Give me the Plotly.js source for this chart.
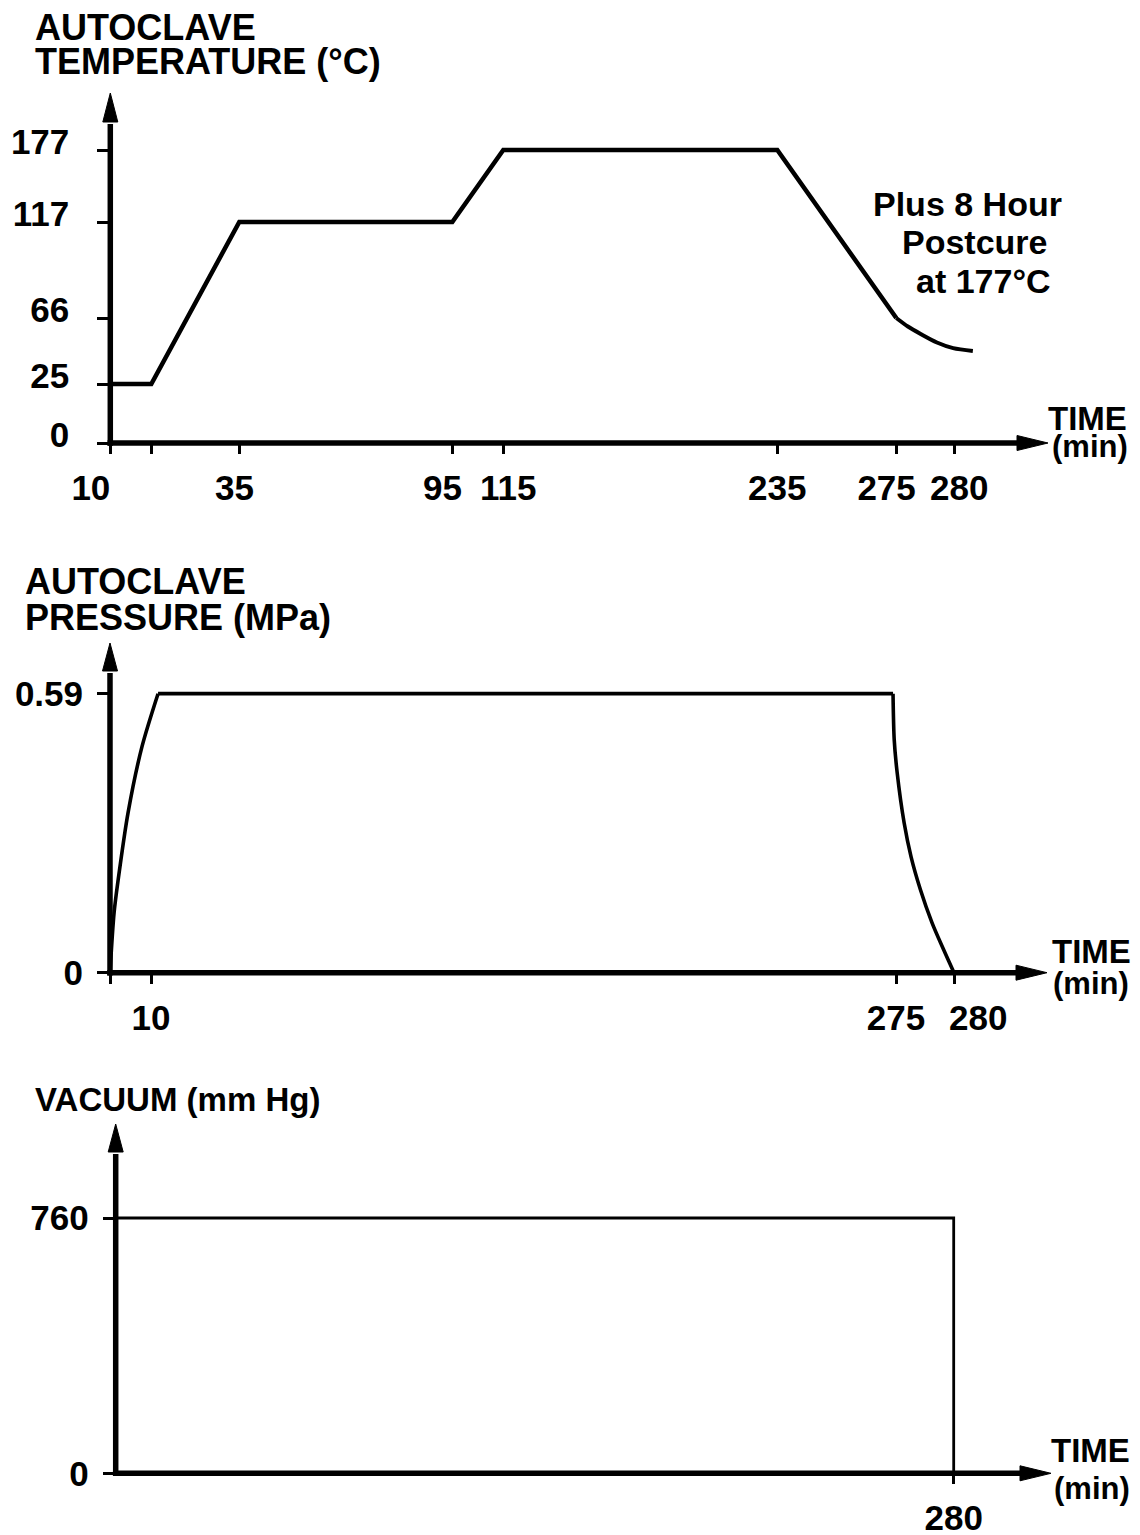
<!DOCTYPE html>
<html>
<head>
<meta charset="utf-8">
<script src="https://cdn.plot.ly/plotly-3.0.1.min.js"></script>
<style>
html, body { margin: 0; padding: 0; background: #ffffff; }
#chart { width: 1140px; height: 1535px; }
</style>
</head>
<body>
<div id="chart"></div>
<script>
// ---------------- data ----------------
// Time ticks (minutes) and their labels, per panel
const timeTickMin = [0, 10, 35, 95, 115, 235, 275, 280];
const tempTimeTickLabels = ['10', '', '35', '95', '115', '235', '275', '280'];
const pressTimeTickMin = [0, 10, 275, 280];
const pressTimeTickLabels = ['', '10', '275', '280'];
const vacTimeTickMin = [280];
const vacTimeTickLabels = ['280'];

// Value ticks
const tempTicksC = [0, 25, 66, 117, 177];
const pressTicksMPa = [0, 0.59];
const vacTicksMmHg = [0, 760];

// Autoclave temperature profile (°C)
const tempTimeMin = [0, 10, 35, 95, 115, 235, 275];
const tempC = [25, 25, 117, 117, 177, 177, 66];
// Cool-down tail after 275 min
const coolTimeMin = [275, 276.0, 277.1, 278.5, 279.9, 281.6];
const coolC = [66, 60.7, 56.1, 50.8, 47.3, 45.5];

// Autoclave pressure (MPa)
const pressRiseMin = [0, 1.0, 2.0, 4.4, 7.8, 12];
const pressRiseMPa = [0, 0.127, 0.197, 0.338, 0.478, 0.59];
const pressHoldMin = [12, 274.0];
const pressHoldMPa = [0.59, 0.59];
const pressReleaseMin = [274.0, 274.4, 275.1, 275.7, 276.3, 277.1, 278.1, 279.1, 280];
const pressReleaseMPa = [0.59, 0.493, 0.423, 0.317, 0.245, 0.176, 0.106, 0.049, 0];

// Vacuum (mm Hg)
const vacTimeMin = [0, 280, 280];
const vacMmHg = [760, 760, 0];

// ---------------- schematic (non-proportional) scales ----------------
// The drawing's axes are not to scale: each labelled value sits at its own spot.
const timeScaleKnots = [0, 10, 35, 95, 115, 235, 275, 280];
const timeScaleSpots = [0, 41, 129, 342, 393, 667, 786, 844];
const tempScaleKnots = [0, 25, 66, 117, 177];
const tempScaleSpots = [0, 59, 125, 221, 293];

function piecewise(knots, spots) {
  return function (v) {
    let i = 0;
    if (v <= knots[0]) i = 0;
    else if (v >= knots[knots.length - 1]) i = knots.length - 2;
    else { while (!(v >= knots[i] && v <= knots[i + 1])) i++; }
    const t = (v - knots[i]) / (knots[i + 1] - knots[i]);
    return spots[i] + t * (spots[i + 1] - spots[i]);
  };
}
const timePos = piecewise(timeScaleKnots, timeScaleSpots);
const tempPos = piecewise(tempScaleKnots, tempScaleSpots);

// ---------------- page geometry helpers ----------------
const W = 1140, H = 1535;
const fx = px => px / W;
const fy = py => 1 - py / H;

const BLACK = '#000000';
const FONT = 'Liberation Sans, Arial, Helvetica, sans-serif';
const WEIGHT = 'bold';
const TICKFONT = { family: FONT, size: 35, color: BLACK, weight: WEIGHT };

// label nudges as drawn in the figure (non-breaking spaces shift a centred label)
const NB = n => '\u00a0'.repeat(n);
const nudge = (txt, left, right) => NB(left) + txt + NB(right);
const tempTickText = tempTimeTickLabels.map((t, i) =>
  [nudge(t, 0, 4), t, nudge(t, 0, 1), nudge(t, 0, 2), nudge(t, 1, 0), t, nudge(t, 0, 2), nudge(t, 1, 0)][i]);
const pressTickText = pressTimeTickLabels.map((t, i) => [t, t, t, nudge(t, 5, 0)][i]);

// panel frames (origin and arrow bases, pixels)
const P1 = { ox: 110.3, oy: 443, xEnd: 1017, yEnd: 122, xTip: 1048, yTip: 93 };
const P2 = { ox: 110, oy: 972.7, xEnd: 1016, yEnd: 671, xTip: 1047, yTip: 643 };
const P3 = { ox: 115.7, oy: 1473.3, xEnd: 1020, yEnd: 1152, xTip: 1051, yTip: 1124 };

// ---------------- traces ----------------
const line = (w, shape) => ({ color: BLACK, width: w, shape: shape || 'linear' });
const traces = [
  { x: tempTimeMin.map(timePos), y: tempC.map(tempPos), xaxis: 'x', yaxis: 'y',
    mode: 'lines', line: Object.assign(line(4.5), { simplify: false }), hoverinfo: 'skip' },
  { x: coolTimeMin.map(timePos), y: coolC.map(tempPos), xaxis: 'x', yaxis: 'y',
    mode: 'lines', line: Object.assign(line(4, 'spline'), { smoothing: 0.8 }), hoverinfo: 'skip' },
  { x: pressRiseMin.map(timePos), y: pressRiseMPa, xaxis: 'x2', yaxis: 'y2',
    mode: 'lines', line: Object.assign(line(3.6, 'spline'), { smoothing: 0.8 }), hoverinfo: 'skip' },
  { x: pressHoldMin.map(timePos), y: pressHoldMPa, xaxis: 'x2', yaxis: 'y2',
    mode: 'lines', line: line(3.8), hoverinfo: 'skip' },
  { x: pressReleaseMin.map(timePos), y: pressReleaseMPa, xaxis: 'x2', yaxis: 'y2',
    mode: 'lines', line: Object.assign(line(3.6, 'spline'), { smoothing: 0.8 }), hoverinfo: 'skip' },
  { x: vacTimeMin.map(timePos), y: vacMmHg, xaxis: 'x3', yaxis: 'y3',
    mode: 'lines', line: line(2.8), hoverinfo: 'skip' }
];

// ---------------- axes ----------------
function xAxis(P, tickMin, tickText, rangeScale, standoff) {
  return {
    domain: [fx(P.ox), fx(P.xEnd)],
    range: [0, (P.xEnd - P.ox) * (rangeScale || 1)],
    showgrid: false, zeroline: false, showline: false, automargin: false,
    ticks: 'outside', ticklen: 10, tickwidth: 3, tickcolor: BLACK, tickangle: 0,
    tickmode: 'array', tickvals: tickMin.map(timePos), ticktext: tickText,
    tickfont: TICKFONT, ticklabelstandoff: standoff, fixedrange: true
  };
}
function yAxis(P, range, tickvals, ticktext, standoff, shift) {
  return {
    domain: [fy(P.oy), fy(P.yEnd)],
    range: range,
    showgrid: false, zeroline: false, showline: false, automargin: false,
    ticks: 'outside', ticklen: 12, tickwidth: 3, tickcolor: BLACK, tickangle: 0,
    tickmode: 'array', tickvals: tickvals, ticktext: ticktext,
    tickfont: TICKFONT, ticklabelstandoff: standoff, ticklabelshift: shift, fixedrange: true
  };
}

const layout = {
  width: W, height: H,
  margin: { l: 0, r: 0, t: 0, b: 0, pad: 0 },
  paper_bgcolor: '#ffffff', plot_bgcolor: 'rgba(0,0,0,0)',
  showlegend: false,
  font: { family: FONT, color: BLACK },
  xaxis: Object.assign(xAxis(P1, timeTickMin, tempTickText, 1, 4), { anchor: 'y' }),
  yaxis: Object.assign(yAxis(P1, [0, P1.oy - P1.yEnd], tempTicksC.map(tempPos), tempTicksC.map(String), 21, -8), { anchor: 'x' }),
  xaxis2: Object.assign(xAxis(P2, pressTimeTickMin, pressTickText, 1, 4), { anchor: 'y2' }),
  yaxis2: Object.assign(yAxis(P2, [0, 0.59 * (P2.oy - P2.yEnd) / 279], pressTicksMPa, ['0', '0.59'], 7, 0), { anchor: 'x2' }),
  xaxis3: Object.assign(xAxis(P3, vacTimeTickMin, vacTimeTickLabels, 844 / 838, 4), { anchor: 'y3' }),
  yaxis3: Object.assign(yAxis(P3, [0, 760 * (P3.oy - P3.yEnd) / 255.3], vacTicksMmHg, ['0', '760'], 7, 0), { anchor: 'x3' }),
  shapes: [],
  annotations: []
};

// axis lines with arrowheads (paper coordinates)
function axisArrows(P, lw) {
  const s = [];
  s.push({ type: 'line', xref: 'paper', yref: 'paper', layer: 'above',
    x0: fx(P.ox), x1: fx(P.ox), y0: fy(P.oy + lw / 2), y1: fy(P.yEnd + 2),
    line: { color: BLACK, width: lw } });
  s.push({ type: 'line', xref: 'paper', yref: 'paper', layer: 'above',
    x0: fx(P.ox - lw / 2), x1: fx(P.xEnd + 2), y0: fy(P.oy), y1: fy(P.oy),
    line: { color: BLACK, width: lw } });
  const hw = 7.5;
  s.push({ type: 'path', xref: 'paper', yref: 'paper', layer: 'above',
    path: `M ${fx(P.ox - hw)},${fy(P.yEnd)} L ${fx(P.ox)},${fy(P.yTip)} L ${fx(P.ox + hw)},${fy(P.yEnd)} Z`,
    fillcolor: BLACK, line: { color: BLACK, width: 1 } });
  s.push({ type: 'path', xref: 'paper', yref: 'paper', layer: 'above',
    path: `M ${fx(P.xEnd)},${fy(P.oy - hw)} L ${fx(P.xTip)},${fy(P.oy)} L ${fx(P.xEnd)},${fy(P.oy + hw)} Z`,
    fillcolor: BLACK, line: { color: BLACK, width: 1 } });
  return s;
}
layout.shapes = [].concat(axisArrows(P1, 5.5), axisArrows(P2, 5.5), axisArrows(P3, 5.5));

// text labels: placed by ink left edge (or centre) and cap top, in pixels
function label(text, px, capTop, size, anchor) {
  const boxTop = capTop - 1 - 0.189 * size;
  return {
    text: text, showarrow: false, xref: 'paper', yref: 'paper',
    x: fx(anchor === 'center' ? px : px - 2), y: fy(boxTop),
    xanchor: anchor || 'left', yanchor: 'top', align: anchor === 'center' ? 'center' : 'left',
    font: { family: FONT, size: size, color: BLACK, weight: WEIGHT }
  };
}
layout.annotations = [
  label('AUTOCLAVE', 35, 13, 36),
  label('TEMPERATURE (°C)', 35, 47, 36),
  label('Plus 8 Hour', 967, 190, 34, 'center'),
  label('Postcure', 975, 228, 34, 'center'),
  label('at 177°C', 983, 267, 34, 'center'),
  label('TIME', 1048, 405, 33),
  label('(min)', 1052, 434, 31),

  label('AUTOCLAVE', 25, 567, 36),
  label('PRESSURE (MPa)', 25, 603, 36),
  label('TIME', 1052, 938, 33),
  label('(min)', 1053, 971, 31),

  label('VACUUM (mm Hg)', 35, 1086, 33),
  label('TIME', 1051, 1437, 33),
  label('(min)', 1054, 1476, 31)
];

Plotly.newPlot('chart', traces, layout, { staticPlot: true, displayModeBar: false });
</script>
</body>
</html>
